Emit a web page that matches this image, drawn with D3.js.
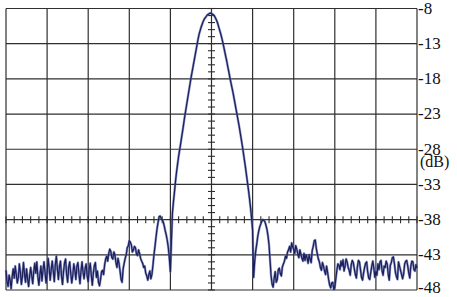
<!DOCTYPE html>
<html>
<head>
<meta charset="utf-8">
<script src="https://cdn.jsdelivr.net/npm/d3@7"></script>
<style>
  html, body { margin: 0; padding: 0; background: #fff; }
  svg { display: block; }
</style>
</head>
<body>
<svg id="chart" width="457" height="297"></svg>
<script>
// level axis (right side labels), dB
var levelTicks = [-8, -13, -18, -23, -28, -33, -38, -43, -48];
// horizontal grid divisions (span offset, no labels on the picture)
var spanDivisions = [-5, -4, -3, -2, -1, 0, 1, 2, 3, 4, 5];
var markerLevel = -38;
var unitLabel = '(dB)';

// sweep: one trace point per 0.025 division, from -5 to +5 (401 points)
var sweepStart = -5, sweepStep = 0.025;
var traceDb = [
  // left noise floor
  -45.2, -46.8, -47.5, -45.9, -46.6, -47.8, -46.1, -45.0, -46.3, -44.6,
  -45.8, -47.0, -46.2, -44.3, -45.5, -47.2, -46.0, -44.1, -45.7, -46.9,
  -45.0, -46.4, -47.5, -46.0, -44.8, -45.9, -47.1, -45.4, -44.2, -45.6,
  -44.0, -46.1, -47.3, -45.8, -44.6, -46.7, -45.2, -44.0, -45.5, -47.0,
  -45.6, -43.5, -44.9, -46.6, -45.1, -43.9, -45.3, -46.8, -44.4, -43.2,
  -45.0, -46.5, -44.7, -43.9, -46.0, -47.2, -45.4, -44.1, -43.6, -45.8,
  -46.9, -44.8, -44.0, -45.6, -47.0, -45.9, -44.3, -45.2, -46.5, -44.6,
  -44.1, -45.7, -47.1, -45.3, -44.0, -45.5, -46.4, -44.9, -44.3, -46.0,
  -46.8, -45.0, -44.2, -45.9, -47.3, -45.6, -44.5, -44.1, -46.2, -45.3,
  -46.9, -47.4,
  // left side lobes
  -46.5, -45.4, -45.2, -45.8, -44.4, -43.6, -43.2, -43.9,
  -42.8, -42.2, -42.5, -43.4, -43.6, -42.6, -43.0, -44.1, -44.8, -43.5,
  -44.2, -45.3, -46.5, -46.9, -45.0, -44.2, -43.5, -43.0, -42.0, -41.7,
  -41.0, -41.2, -41.6, -42.6, -42.3, -41.8, -42.0, -42.9, -43.1, -42.3,
  -42.8, -43.5, -43.9, -44.2, -44.8, -44.6, -45.6, -46.0, -46.6, -45.8,
  -45.3, -46.4, -45.8, -44.5, -43.0, -41.8, -40.5, -39.3, -38.4, -37.6,
  -37.5, -37.8, -38.0, -38.3, -38.9, -39.6, -40.2, -41.0, -42.0, -43.5,
  -45.4, -41.0,
  // main lobe
  -37.0, -35.4, -34.0, -32.5, -31.2, -30.1, -29.0, -28.1,
  -27.2, -26.2, -25.3, -24.3, -23.3, -22.4, -21.5, -20.6, -19.7, -18.8,
  -17.9, -17.1, -16.3, -15.5, -14.7, -13.9, -13.1, -12.3, -11.6, -11.1,
  -10.6, -10.2, -9.8, -9.5, -9.3, -9.1, -8.9, -8.8, -8.7, -8.65,
  -8.7, -8.8, -8.9, -9.1, -9.4, -9.7, -10.1, -10.6, -11.1, -11.6,
  -12.2, -12.8, -13.5, -14.2, -14.9, -15.6, -16.4, -17.1, -17.9, -18.6,
  -19.3, -20.0, -20.8, -21.6, -22.4, -23.2, -24.0, -24.8, -25.7, -26.6,
  -27.5, -28.5, -29.5, -30.5, -31.6, -32.7, -33.8, -35.0, -36.3, -37.8,
  -39.5,
  // right side lobe
  -46.2, -44.0, -42.5, -41.5, -40.4, -39.6, -39.0, -38.6, -38.2,
  -38.0, -38.1, -38.3, -38.8, -39.4, -40.3, -41.6, -43.8, -46.0, -47.2,
  -47.6,
  // right humps and noise floor
  -46.3, -45.4, -46.9, -46.5, -45.1, -44.9, -45.7, -46.0, -44.7,
  -44.3, -43.9, -43.2, -43.5, -42.6, -42.3, -41.8, -42.6, -41.3, -41.9,
  -42.2, -42.8, -41.7, -42.2, -42.9, -43.4, -42.3, -42.9, -43.5, -43.9,
  -42.8, -43.8, -43.0, -43.4, -44.2, -43.0, -43.6, -44.1, -42.4, -41.8,
  -41.0, -40.9, -42.1, -42.9, -43.6, -44.0, -44.8, -45.2, -44.1, -44.6,
  -45.3, -45.8, -44.6, -45.5, -46.5, -47.3, -47.7, -47.0, -46.9, -47.9,
  -47.6, -46.4, -45.2, -44.3, -44.5, -45.1, -43.9, -44.6, -43.7, -45.3,
  -44.6, -43.6, -44.0, -44.8, -45.2, -45.9, -44.4, -43.8, -44.1, -45.0,
  -45.8, -46.3, -44.7, -43.8, -44.0, -45.1, -46.2, -46.6, -45.6, -44.8,
  -44.2, -44.0, -45.4, -46.3, -46.5, -45.5, -44.6, -43.9, -44.9, -46.2,
  -45.4, -45.9, -44.3, -45.1, -44.0, -43.8, -45.3, -45.9, -44.6, -44.8,
  -43.9, -44.3, -45.8, -46.6, -44.5, -44.1, -43.4, -43.3, -44.2, -45.5,
  -46.1, -46.5, -44.0, -44.6, -45.2, -45.8, -46.4, -45.7, -44.3, -43.9,
  -43.8, -44.6, -45.6, -46.3, -44.6, -43.9, -44.0, -45.1, -45.3, -44.4,
  -44.9
];

(function() {
    var svg = d3.select('#chart');
    var plotLeft = 6, plotRight = 417, plotTop = 8.5, plotBottom = 290;

    var x = d3.scaleLinear().domain([-5, 5]).range([plotLeft, plotRight]);
    var y = d3.scaleLinear().domain([-48, -8]).range([plotBottom, plotTop]);

    var gridColor = '#2f2f2f';
    var labelFont = '"Liberation Serif", "Times New Roman", Tinos, serif';

    // grid
    var grid = svg.append('g').attr('stroke', gridColor).attr('stroke-width', 1.2);
    grid.selectAll('line.v').data(spanDivisions).enter().append('line')
        .attr('class', 'v')
        .attr('x1', function(d) { return x(d); })
        .attr('x2', function(d) { return x(d); })
        .attr('y1', y(-8)).attr('y2', y(-48));
    grid.selectAll('line.h').data(levelTicks).enter().append('line')
        .attr('class', 'h')
        .attr('y1', function(d) { return y(d); })
        .attr('y2', function(d) { return y(d); })
        .attr('x1', x(-5)).attr('x2', x(5));

    // minor ticks on the centre line (1 dB) and on the marker line (0.2 div)
    var minor = svg.append('g').attr('stroke', gridColor).attr('stroke-width', 1.1);
    minor.selectAll('line.dy').data(y.ticks(40)).enter().append('line')
        .attr('class', 'dy')
        .attr('x1', x(0) - 3.5).attr('x2', x(0) + 3.5)
        .attr('y1', function(d) { return y(d); })
        .attr('y2', function(d) { return y(d); });
    minor.selectAll('line.dx').data(x.ticks(50)).enter().append('line')
        .attr('class', 'dx')
        .attr('y1', y(markerLevel) - 3.5).attr('y2', y(markerLevel) + 3.5)
        .attr('x1', function(d) { return x(d); })
        .attr('x2', function(d) { return x(d); });

    // level labels on the right
    var axis = d3.axisRight(y)
        .tickValues(levelTicks)
        .tickSize(0)
        .tickPadding(1)
        .tickFormat(function(d) { return String(d); });
    var ax = svg.append('g').attr('transform', 'translate(' + plotRight + ',0)').call(axis);
    ax.select('.domain').remove();
    ax.selectAll('text')
        .attr('fill', '#111')
        .attr('dy', function(d) { return d === -48 ? '0.12em' : '0.28em'; })
        .style('font-family', labelFont)
        .style('font-size', '17px');

    svg.append('text')
        .attr('x', plotRight + 3)
        .attr('y', (y(-28) + y(-33)) / 2 + 0.5)
        .attr('fill', '#111')
        .style('font-family', labelFont)
        .style('font-size', '16px')
        .text(unitLabel);

    // trace
    var points = traceDb.map(function(v, i) { return [sweepStart + i * sweepStep, v]; });
    var line = d3.line()
        .x(function(d) { return x(d[0]); })
        .y(function(d) { return y(d[1]); });

    svg.append('path').datum(points)
        .attr('d', line)
        .attr('fill', 'none')
        .attr('stroke', '#5a68ad')
        .attr('stroke-opacity', 0.7)
        .attr('stroke-width', 2.4)
        .attr('stroke-linejoin', 'round');
    svg.append('path').datum(points)
        .attr('d', line)
        .attr('fill', 'none')
        .attr('stroke', '#1b1e58')
        .attr('stroke-width', 1.2)
        .attr('stroke-linejoin', 'round');
})();
</script>
</body>
</html>
